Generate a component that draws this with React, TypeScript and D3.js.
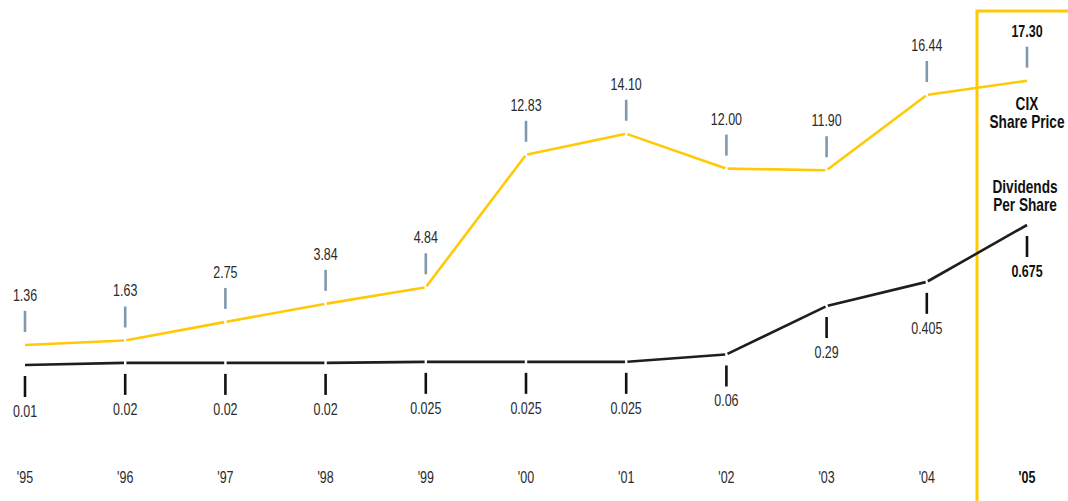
import React from "react";
import * as d3 from "d3";

const years = ["'95", "'96", "'97", "'98", "'99", "'00", "'01", "'02", "'03", "'04", "'05"];
const priceValues = [1.36, 1.63, 2.75, 3.84, 4.84, 12.83, 14.1, 12.0, 11.9, 16.44, 17.3];
const priceLabels = ["1.36", "1.63", "2.75", "3.84", "4.84", "12.83", "14.10", "12.00", "11.90", "16.44", "17.30"];
const dividendValues = [0.01, 0.02, 0.02, 0.02, 0.025, 0.025, 0.025, 0.06, 0.29, 0.405, 0.675];
const dividendLabels = ["0.01", "0.02", "0.02", "0.02", "0.025", "0.025", "0.025", "0.06", "0.29", "0.405", "0.675"];

const W = 1068;
const H = 501;
const YELLOW = "#FFC905";
const FONT = "'Liberation Sans', Arial, sans-serif";

function segments(pts: [number, number][], gap: number) {
  const out: { x1: number; y1: number; x2: number; y2: number }[] = [];
  for (let i = 0; i < pts.length - 1; i++) {
    const [ax, ay] = pts[i];
    const [bx, by] = pts[i + 1];
    const len = Math.hypot(bx - ax, by - ay);
    const ux = (bx - ax) / len;
    const uy = (by - ay) / len;
    const g0 = i === 0 ? 0 : gap;
    const g1 = i === pts.length - 2 ? 0 : gap;
    out.push({ x1: ax + ux * g0, y1: ay + uy * g0, x2: bx - ux * g1, y2: by - uy * g1 });
  }
  return out;
}

function T(props: { x: number; y: number; bold?: boolean; size?: number; children: React.ReactNode; fill?: string }) {
  const { x, y, bold, size = 16, children, fill } = props;
  return (
    <g transform={`translate(${x},${y}) scale(0.78,1)`}>
      <text
        x={0}
        y={0}
        textAnchor="middle"
        fontSize={size}
        fontWeight={bold ? "bold" : "normal"}
        fill={fill ?? (bold ? "#111" : "#2a2a2a")}
      >
        {children}
      </text>
    </g>
  );
}

export default function App() {
  const x = d3.scalePoint<string>().domain(years).range([25, 1027]);
  const yPrice = d3.scaleLinear().domain([0, 17.3]).range([367.5, 80.7]);
  const yDiv = d3.scaleLinear().domain([0, 0.675]).range([367.1, 225]);

  const pricePts: [number, number][] = priceValues.map((v, i) => [x(years[i])!, yPrice(v)]);
  const divPts: [number, number][] = dividendValues.map((v, i) => [x(years[i])!, yDiv(v)]);
  const last = years.length - 1;

  return (
    <svg
      width={W}
      height={H}
      style={{ position: "absolute", left: 0, top: 0, background: "#fff" }}
      fontFamily={FONT}
    >
      {/* highlight box */}
      <polyline
        points={`977,${H} 977,11 ${W},11`}
        fill="none"
        stroke={YELLOW}
        strokeWidth={3}
      />

      {/* price line */}
      {segments(pricePts, 1.2).map((s, i) => (
        <line key={"p" + i} {...s} stroke={YELLOW} strokeWidth={2.6} strokeLinecap="butt" />
      ))}
      {/* dividend line */}
      {segments(divPts, 1.2).map((s, i) => (
        <line key={"d" + i} {...s} stroke="#1e1e1e" strokeWidth={2.6} strokeLinecap="butt" />
      ))}

      {/* price ticks and labels */}
      {pricePts.map(([px, py], i) => (
        <g key={"pl" + i}>
          <line x1={px} x2={px} y1={py - 34} y2={py - 13} stroke="#7f98ad" strokeWidth={2.6} />
          <T x={px} y={py - 44} bold={i === last}>{priceLabels[i]}</T>
        </g>
      ))}

      {/* dividend ticks and labels */}
      {divPts.map(([px, py], i) => (
        <g key={"dl" + i}>
          <line x1={px} x2={px} y1={py + 11} y2={py + 32} stroke="#111" strokeWidth={2.6} />
          <T x={px} y={py + 52} bold={i === last}>{dividendLabels[i]}</T>
        </g>
      ))}

      {/* year labels */}
      {years.map((yr, i) => (
        <T key={"y" + i} x={x(yr)!} y={483} bold={i === last}>{yr}</T>
      ))}

      {/* series names */}
      <T x={1027} y={110} size={17.5} bold>CIX</T>
      <T x={1027} y={128} size={17.5} bold>Share Price</T>
      <T x={1025} y={193} size={17.5} bold>Dividends</T>
      <T x={1025} y={211} size={17.5} bold>Per Share</T>
    </svg>
  );
}
